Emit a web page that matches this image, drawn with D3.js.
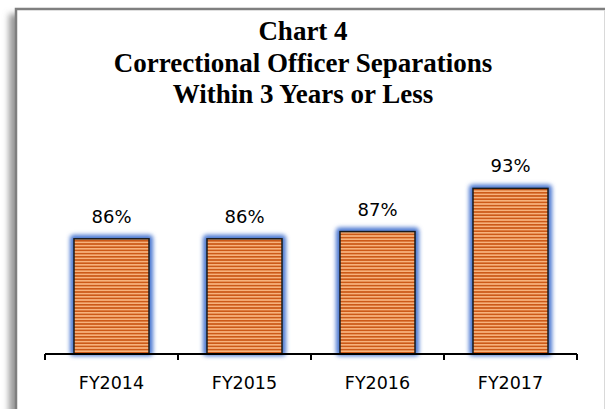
<!DOCTYPE html>
<html>
<head>
<meta charset="utf-8">
<script src="https://cdn.jsdelivr.net/npm/d3@7"></script>
<style>
  body { margin: 0; background: #fff; }
  svg { display: block; }
</style>
</head>
<body>
<div id="chart"></div>
<script>
// data
var years = ["FY2014", "FY2015", "FY2016", "FY2017"];
var separations = [86, 86, 87, 93];
var titleLines = ["Chart 4", "Correctional Officer Separations", "Within 3 Years or Less"];

var W = 605, H = 409;

var svg = d3.select("#chart").append("svg")
    .attr("width", W)
    .attr("height", H);

var defs = svg.append("defs");

// striped orange fill
var pat = defs.append("pattern")
    .attr("id", "stripes")
    .attr("patternUnits", "userSpaceOnUse")
    .attr("width", 6).attr("height", 3.2);
pat.append("rect").attr("width", 6).attr("height", 3.2).attr("fill", "#f7b27c");
pat.append("rect").attr("width", 6).attr("height", 1.6).attr("fill", "#cc5a18");

// blue glow
var glow = defs.append("filter").attr("id", "glow")
    .attr("x", "-30%").attr("y", "-30%").attr("width", "160%").attr("height", "160%");
glow.append("feGaussianBlur").attr("stdDeviation", 2.2);

// frame shadow
var sh = defs.append("filter").attr("id", "shadow")
    .attr("x", "-10%").attr("y", "-10%").attr("width", "120%").attr("height", "120%");
sh.append("feGaussianBlur").attr("stdDeviation", 3);

// frame
svg.append("rect")
    .attr("x", 9).attr("y", 14).attr("width", 600).attr("height", 420)
    .attr("fill", "#999").attr("filter", "url(#shadow)");
svg.append("rect")
    .attr("x", 16).attr("y", 9).attr("width", 600).attr("height", 420)
    .attr("fill", "#fff").attr("stroke", "#7f7f7f").attr("stroke-width", 2.5);
svg.append("line")
    .attr("x1", 604.5).attr("x2", 604.5).attr("y1", 10).attr("y2", H)
    .attr("stroke", "#d9d9d9");

// title
svg.append("g").selectAll("text")
    .data(titleLines)
    .enter().append("text")
    .attr("x", 303)
    .attr("y", function(d, i) { return 40 + i * 31.5; })
    .attr("text-anchor", "middle")
    .style("font-family", "'Liberation Serif', 'Times New Roman', serif")
    .style("font-weight", "bold")
    .style("font-size", "27px")
    .text(function(d) { return d; });

var x = d3.scaleBand()
    .domain(years)
    .range([45, 577])
    .paddingInner(0.436)
    .paddingOuter(0.218);

var y = d3.scaleLinear()
    .domain([70, 100])
    .range([354, 138]);

var data = years.map(function(d, i) { return { year: d, value: separations[i] }; });

var g = svg.append("g");

// glow behind bars
g.selectAll("rect.glow")
    .data(data)
    .enter().append("rect")
    .attr("class", "glow")
    .attr("x", function(d) { return x(d.year) - 4; })
    .attr("y", function(d) { return y(d.value) - 4; })
    .attr("width", x.bandwidth() + 8)
    .attr("height", function(d) { return y(70) - y(d.value) + 6; })
    .attr("rx", 4)
    .attr("fill", "#4a77d0")
    .attr("filter", "url(#glow)");

g.selectAll("rect.bar")
    .data(data)
    .enter().append("rect")
    .attr("class", "bar")
    .attr("x", function(d) { return x(d.year); })
    .attr("y", function(d) { return y(d.value); })
    .attr("width", x.bandwidth())
    .attr("height", function(d) { return y(70) - y(d.value); })
    .attr("fill", "url(#stripes)")
    .attr("stroke", "#1a1a1a")
    .attr("stroke-width", 1.5);

// value labels
g.selectAll("text.val")
    .data(data)
    .enter().append("text")
    .attr("class", "val")
    .attr("x", function(d) { return x(d.year) + x.bandwidth() / 2; })
    .attr("y", function(d) { return y(d.value) - 16; })
    .attr("text-anchor", "middle")
    .style("font-family", "'DejaVu Sans', sans-serif")
    .style("font-size", "18px")
    .text(function(d) { return d.value + "%"; });

// x axis with ticks between categories
var axisG = svg.append("g");
axisG.append("line")
    .attr("x1", 45).attr("x2", 577)
    .attr("y1", 354).attr("y2", 354)
    .attr("stroke", "#000").attr("stroke-width", 2);

var step = x.step();
var tickXs = d3.range(years.length + 1).map(function(i) { return 45 + i * step; });
axisG.selectAll("line.tick")
    .data(tickXs)
    .enter().append("line")
    .attr("class", "tick")
    .attr("x1", function(d) { return d; }).attr("x2", function(d) { return d; })
    .attr("y1", 354).attr("y2", 360)
    .attr("stroke", "#000").attr("stroke-width", 2);

axisG.selectAll("text.cat")
    .data(years)
    .enter().append("text")
    .attr("class", "cat")
    .attr("x", function(d) { return x(d) + x.bandwidth() / 2; })
    .attr("y", 389)
    .attr("text-anchor", "middle")
    .style("font-family", "'DejaVu Sans', sans-serif")
    .style("font-size", "17.5px")
    .text(function(d) { return d; });
</script>
</body>
</html>
